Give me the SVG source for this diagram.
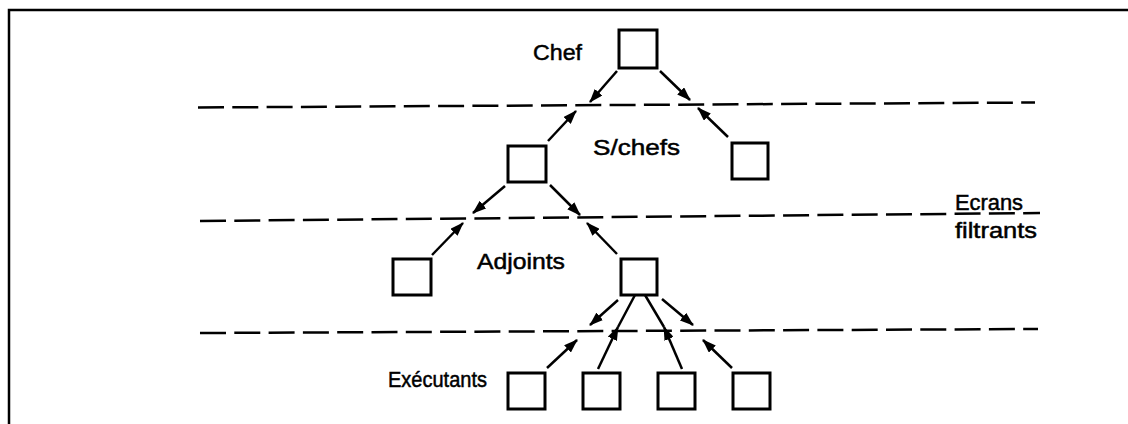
<svg xmlns="http://www.w3.org/2000/svg" width="1128" height="424" viewBox="0 0 1128 424">
<style>
.frame{fill:none;stroke:#000;stroke-width:2.5}
.box{fill:#fff;stroke:#000;stroke-width:3}
.screen{stroke:#000;stroke-width:2.5;stroke-dasharray:26 8.3;fill:none}
.arr{stroke:#000;stroke-width:2.5;fill:none;marker-end:url(#ah)}
.ln{stroke:#000;stroke-width:2.5;fill:none}
text{font-family:"Liberation Sans",Arial,sans-serif;font-size:22px;fill:#000;stroke:#000;stroke-width:0.5}
</style>
<defs>
<marker id="ah" markerWidth="14" markerHeight="10" refX="13" refY="5" orient="auto" markerUnits="userSpaceOnUse">
<path d="M0,0 L14,5 L0,10 Z" fill="#000"/>
</marker>
</defs>
<path class="frame" d="M9,424 V10 H1128"/>
<g id="screens">
<line class="screen" x1="198" y1="107.5" x2="1035" y2="102.5"/>
<line class="screen" x1="200" y1="221" x2="1040" y2="213"/>
<line class="screen" x1="200" y1="333" x2="1038" y2="329"/>
</g>
<g id="connectors">
<line class="arr" x1="617" y1="71" x2="590" y2="102"/>
<line class="arr" x1="660" y1="71" x2="690" y2="100"/>
<line class="arr" x1="548" y1="141" x2="576" y2="111"/>
<line class="arr" x1="728" y1="137" x2="698" y2="108"/>
<line class="arr" x1="505" y1="186" x2="473" y2="213"/>
<line class="arr" x1="550" y1="185" x2="580" y2="215"/>
<line class="arr" x1="432" y1="255" x2="463" y2="223"/>
<line class="arr" x1="617" y1="254" x2="587" y2="223"/>
<line class="arr" x1="618" y1="300" x2="590" y2="325"/>
<line class="arr" x1="662" y1="299" x2="693" y2="325"/>
<line class="arr" x1="547" y1="368" x2="577" y2="340"/>
<line class="arr" x1="732" y1="368" x2="703" y2="340"/>
<line class="arr" x1="598" y1="369" x2="618" y2="327"/>
<line class="ln" x1="618" y1="327" x2="635" y2="295"/>
<line class="arr" x1="682" y1="369" x2="664" y2="327"/>
<line class="ln" x1="664" y1="327" x2="645" y2="295"/>
</g>
<g id="chef"><rect class="box" x="619" y="30" width="38" height="38"/></g>
<g id="schef1"><rect class="box" x="508" y="146" width="38" height="36"/></g>
<g id="schef2"><rect class="box" x="732" y="143" width="36" height="36"/></g>
<g id="adjoint1"><rect class="box" x="393" y="259" width="38" height="36"/></g>
<g id="adjoint2"><rect class="box" x="621" y="259" width="36" height="36"/></g>
<g id="exec1"><rect class="box" x="508" y="373" width="37" height="36"/></g>
<g id="exec2"><rect class="box" x="583" y="373" width="37" height="36"/></g>
<g id="exec3"><rect class="box" x="658" y="373" width="37" height="36"/></g>
<g id="exec4"><rect class="box" x="733" y="373" width="37" height="36"/></g>
<g id="labels">
<text x="533" y="60" textLength="49" lengthAdjust="spacingAndGlyphs">Chef</text>
<text x="593" y="155" textLength="87" lengthAdjust="spacingAndGlyphs">S/chefs</text>
<text x="477" y="269" textLength="88" lengthAdjust="spacingAndGlyphs">Adjoints</text>
<text x="388" y="387" textLength="99" lengthAdjust="spacingAndGlyphs">Exécutants</text>
<text x="955" y="210" textLength="68" lengthAdjust="spacingAndGlyphs">Ecrans</text>
<text x="955" y="238" textLength="82" lengthAdjust="spacingAndGlyphs">filtrants</text>
</g>
</svg>
